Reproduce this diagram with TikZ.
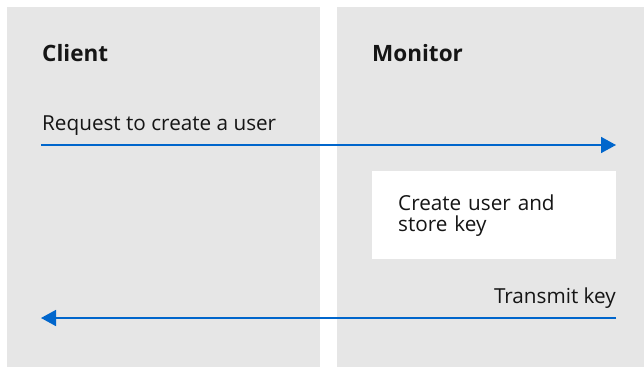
\documentclass[tikz,border=0pt]{standalone}
\usepackage{fontspec}
\setmainfont{Open Sans}
\usetikzlibrary{arrows.meta,positioning}
\definecolor{rhblue}{HTML}{0066CC}
\definecolor{lanegray}{HTML}{E6E6E6}
\definecolor{inkdark}{HTML}{151515}

\begin{document}
\begin{tikzpicture}[x=1pt, y=-1pt,
    lane/.style={fill=lanegray},
    title/.style={anchor=base west, inner sep=0pt, text=inkdark, font=\bfseries\fontsize{22.5}{26}\selectfont},
    msg/.style={inner sep=0pt, text=inkdark, font=\fontsize{20.7}{21}\selectfont},
    flow/.style={draw=rhblue, line width=1.6pt, -{Triangle[length=15pt,width=16pt]}}]
                \useasboundingbox (0,0) rectangle (644,367);
                \fill[lane] (7,7) rectangle (320,367);
                \fill[lane] (337,7) rectangle (644,367);
                \node[title] (client) at (42,61) {Client};
                \node[title] (monitor) at (372,61) {Monitor};
                \node[msg, anchor=base west] (req) at (42,130) {Request to create a user};
                \coordinate (reqstart) at (41,145);
                \coordinate (reqend) at (616,145);
                \draw[flow] (reqstart) -- (reqend);
                \node[msg, fill=white, anchor=north west, align=left, text width=192pt,
                      inner xsep=26pt, minimum width=244pt, minimum height=88pt] (store) at (372,171)
                      {Create user and\\store key};
                \node[msg, anchor=base east] (transmit) at (616,303) {Transmit key};
                \coordinate (txstart) at (616,318);
                \coordinate (txend) at (41,318);
                \draw[flow] (txstart) -- (txend);
            \end{tikzpicture}
\end{document}
